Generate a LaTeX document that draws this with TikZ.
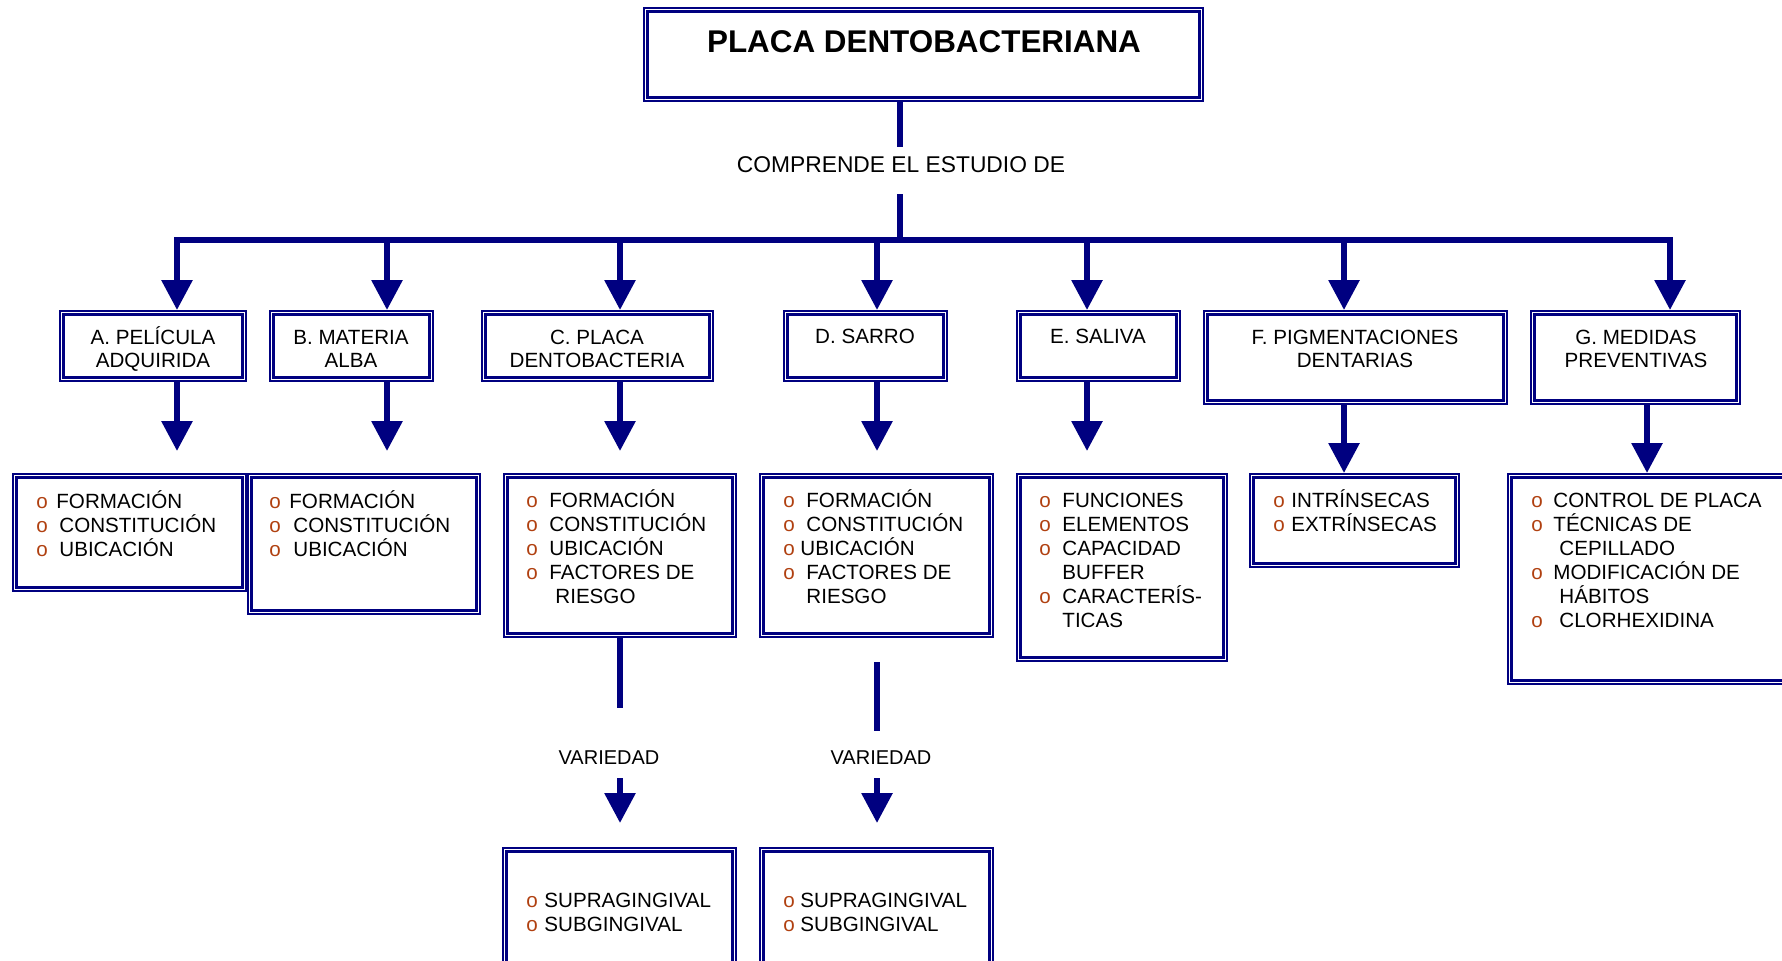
\documentclass[tikz,border=0pt]{standalone}
\usepackage{fontspec}
\setmainfont{Liberation Sans}
\usetikzlibrary{arrows.meta,calc}
\definecolor{navy}{RGB}{0,0,128}
\definecolor{bul}{RGB}{176,64,16}
\newcommand\Cen[1]{\vtop{\halign{\hfil##\hfil\cr#1\crcr}}}
\newcommand\Lef[1]{\vtop{\halign{##\hfil\cr#1\crcr}}}
\newcommand\Bu[2]{\makebox[#1pt][l]{\textcolor{bul}{o}}#2}
\newcommand\Co[2]{\hspace*{#1pt}#2}
\newcommand\Dbx[5]{\node[dbox, minimum width={(#4-#2-2)*0.5pt}, minimum height={(#5-#3-2)*0.5pt}] (#1) at ({(#2+#4)/2},{(#3+#5)/2}) {};
  \draw[inbox] ($(#1.north west)+(4.5,4.5)$) rectangle ($(#1.south east)+(-4.5,-4.5)$);}
\begin{document}
\begin{tikzpicture}[x=0.5pt,y=-0.5pt,
  dbox/.style={draw=navy, line width=1pt, inner sep=0pt},
  inbox/.style={draw=navy, line width=1.4pt},
  ln/.style={draw=navy, line width=3pt},
  arr/.style={ln, -{Triangle[width=15pt,length=15pt]}},
  tt/.style={inner sep=0pt, anchor=base, font=\fontsize{10.3}{11.5}\selectfont},
  lt/.style={inner sep=0pt, anchor=base west, font=\fontsize{10.3}{12}\selectfont}]
\useasboundingbox (0,0) rectangle (1782,960);
\clip (0,0) rectangle (1782,960);

% title
\Dbx{T}{643}{7}{1204}{102}
\node[inner sep=0pt, anchor=base, font=\bfseries\fontsize{15.7}{18}\selectfont] (Tt) at (924,52) {PLACA DENTOBACTERIANA};
\node[inner sep=0pt, anchor=base, font=\fontsize{11.4}{13}\selectfont] (comp) at (901,172) {COMPRENDE EL ESTUDIO DE};

% column coordinates
\coordinate (xT) at (900,0);
\coordinate (xa) at (177,0);
\coordinate (xb) at (387,0);
\coordinate (xc) at (620,0);
\coordinate (xd) at (877,0);
\coordinate (xe) at (1087,0);
\coordinate (xf) at (1344,0);
\coordinate (xg) at (1670,0);
\coordinate (xg2) at (1647,0);
\coordinate (c1) at (900,147);
\coordinate (c2) at (900,194);
\coordinate (bar) at (900,240);

% top boxes
\Dbx{A}{59}{310}{247}{382}
\Dbx{B}{269}{310}{434}{382}
\Dbx{C}{481}{310}{714}{382}
\Dbx{D}{783}{310}{948}{382}
\Dbx{E}{1016}{310}{1181}{382}
\Dbx{F}{1203}{310}{1508}{405}
\Dbx{G}{1530}{310}{1741}{405}
\node[tt] (At) at (153,344) {\Cen{A. PELÍCULA\cr ADQUIRIDA}};
\node[tt] (Bt) at (351,344) {\Cen{B. MATERIA\cr ALBA}};
\node[tt] (Ct) at (597,344) {\Cen{C. PLACA\cr DENTOBACTERIA}};
\node[tt] (Dt) at (865,343) {D. SARRO};
\node[tt] (Et) at (1098,343) {E. SALIVA};
\node[tt] (Ft) at (1355,344) {\Cen{F. PIGMENTACIONES\cr DENTARIAS}};
\node[tt] (Gt) at (1636,344) {\Cen{G. MEDIDAS\cr PREVENTIVAS}};

% lower boxes
\Dbx{A2}{12}{473}{247}{592}
\Dbx{B2}{247}{473}{481}{615}
\Dbx{C2}{503}{473}{737}{638}
\Dbx{D2}{759}{473}{994}{638}
\Dbx{E2}{1016}{473}{1228}{662}
\Dbx{F2}{1249}{473}{1460}{568}
\Dbx{G2}{1507}{473}{1800}{685}
\node[lt] (A2t) at (36,508) {\Lef{\Bu{10}{FORMACIÓN}\cr \Bu{11.5}{CONSTITUCIÓN}\cr \Bu{11.5}{UBICACIÓN}}};
\node[lt] (B2t) at (269,508) {\Lef{\Bu{10}{FORMACIÓN}\cr \Bu{12}{CONSTITUCIÓN}\cr \Bu{12}{UBICACIÓN}}};
\node[lt] (C2t) at (526,507) {\Lef{\Bu{11.5}{FORMACIÓN}\cr \Bu{11.5}{CONSTITUCIÓN}\cr \Bu{11.5}{UBICACIÓN}\cr \Bu{11.5}{FACTORES DE}\cr \Co{14.5}{RIESGO}}};
\node[lt] (D2t) at (783,507) {\Lef{\Bu{11.5}{FORMACIÓN}\cr \Bu{11.5}{CONSTITUCIÓN}\cr \Bu{8.5}{UBICACIÓN}\cr \Bu{11.5}{FACTORES DE}\cr \Co{11.5}{RIESGO}}};
\node[lt] (E2t) at (1039,507) {\Lef{\Bu{11.5}{FUNCIONES}\cr \Bu{11.5}{ELEMENTOS}\cr \Bu{11.5}{CAPACIDAD}\cr \Co{11.5}{BUFFER}\cr \Bu{11.5}{CARACTERÍS-}\cr \Co{11.5}{TICAS}}};
\node[lt] (F2t) at (1273,507) {\Lef{\Bu{9}{INTRÍNSECAS}\cr \Bu{9}{EXTRÍNSECAS}}};
\node[lt] (G2t) at (1531,507) {\Lef{\Bu{11}{CONTROL DE PLACA}\cr \Bu{11}{TÉCNICAS DE}\cr \Co{14}{CEPILLADO}\cr \Bu{11}{MODIFICACIÓN DE}\cr \Co{14}{HÁBITOS}\cr \Bu{14}{CLORHEXIDINA}}};

% variedad
\node[tt, font=\fontsize{10}{12}\selectfont] (vC) at (609,764) {VARIEDAD};
\node[tt, font=\fontsize{10}{12}\selectfont] (vD) at (881,764) {VARIEDAD};
\coordinate (cv1) at (620,708);
\coordinate (cv2) at (620,778);
\coordinate (cv3) at (620,823);
\coordinate (dv0) at (877,662);
\coordinate (dv1) at (877,731);
\coordinate (dv2) at (877,778);
\coordinate (dv3) at (877,823);

% bottom boxes
\Dbx{C3}{502}{847}{737}{985}
\Dbx{D3}{759}{847}{994}{985}
\node[lt] (C3t) at (526,907) {\Lef{\Bu{9}{SUPRAGINGIVAL}\cr \Bu{9}{SUBGINGIVAL}}};
\node[lt] (D3t) at (783,907) {\Lef{\Bu{8.5}{SUPRAGINGIVAL}\cr \Bu{8.5}{SUBGINGIVAL}}};

% connectors
\draw[ln] (T.south -| xT) -- (c1);
\draw[ln] (c2) -- (bar);
\draw[ln, {Triangle[width=15pt,length=15pt]}-{Triangle[width=15pt,length=15pt]}, line join=miter]
  (A.north -| xa) |- (bar) -| (G.north -| xg);
\draw[arr] (bar -| xb) -- (B.north -| xb);
\draw[arr] (bar -| xc) -- (C.north -| xc);
\draw[arr] (bar -| xd) -- (D.north -| xd);
\draw[arr] (bar -| xe) -- (E.north -| xe);
\draw[arr] (bar -| xf) -- (F.north -| xf);

\coordinate (ta) at (177,451);
\coordinate (tb) at (387,451);
\coordinate (tc) at (620,451);
\coordinate (td) at (877,451);
\coordinate (te) at (1087,451);
\draw[arr] (A.south -| xa) -- (ta);
\draw[arr] (B.south -| xb) -- (tb);
\draw[arr] (C.south -| xc) -- (tc);
\draw[arr] (D.south -| xd) -- (td);
\draw[arr] (E.south -| xe) -- (te);
\draw[arr] (F.south -| xf) -- (F2.north -| xf);
\draw[arr] (G.south -| xg2) -- (G2.north -| xg2);

\draw[ln] (C2.south -| xc) -- (cv1);
\draw[arr] (cv2) -- (cv3);
\draw[ln] (dv0) -- (dv1);
\draw[arr] (dv2) -- (dv3);
\end{tikzpicture}
\end{document}
